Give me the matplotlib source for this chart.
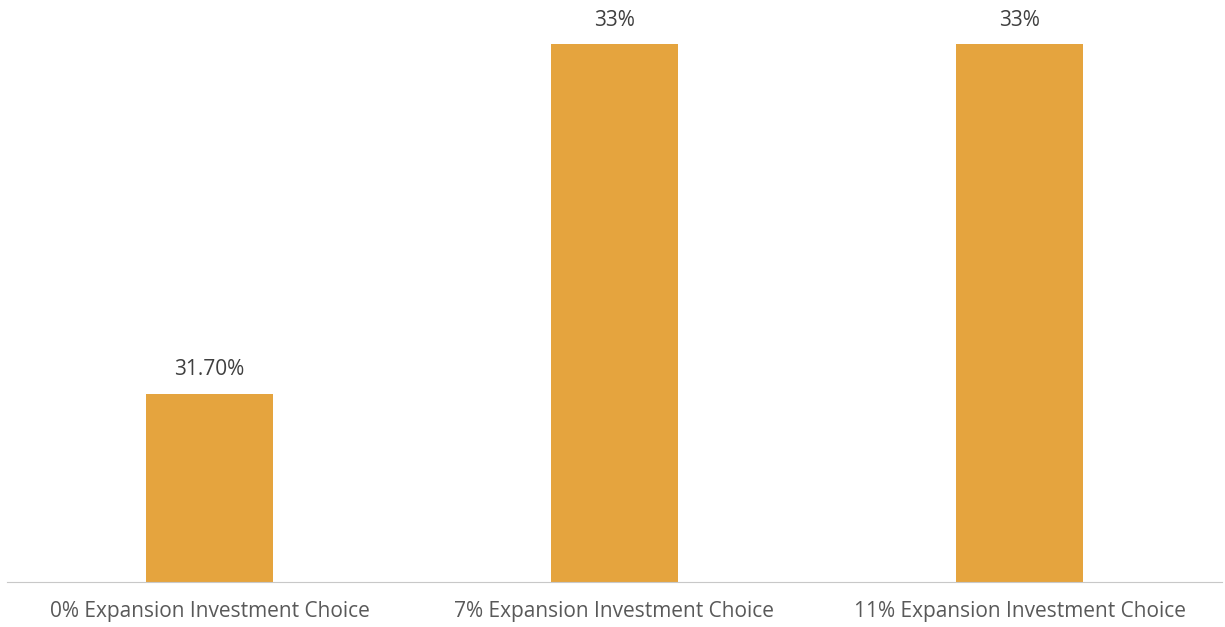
import matplotlib.pyplot as plt

categories = ["0% Expansion Investment Choice",
              "7% Expansion Investment Choice",
              "11% Expansion Investment Choice"]
values = [31.70, 33, 33]
value_labels = ["31.70%", "33%", "33%"]

plt.rcParams['font.family'] = ['Open Sans', 'DejaVu Sans']

fig = plt.figure(figsize=(12.25, 6.27), dpi=100)
ax = fig.add_axes([7 / 1225, 45 / 627, 1215 / 1225, 582 / 627])

x = range(len(categories))
bars = ax.bar(x, values, width=0.314, color="#E5A43E", bottom=0)
ax.set_ylim(31, 33.165)
ax.set_xlim(-0.5, 2.5)

for b, lab in zip(bars, value_labels):
    ax.annotate(lab, (b.get_x() + b.get_width() / 2, b.get_height()),
                xytext=(0, 17.5), textcoords="offset points",
                ha="center", va="center", fontsize=15, color="#404040")

ax.set_xticks(list(x))
ax.set_xticklabels(categories, fontsize=15, color="#595959")
ax.tick_params(axis="x", length=0, pad=14)
ax.set_yticks([])
for s in ["top", "right", "left"]:
    ax.spines[s].set_visible(False)
ax.spines["bottom"].set_color("#c8c8c8")
ax.spines["bottom"].set_linestyle((0, (2, 1)))
ax.spines["bottom"].set_linewidth(0.8)

fig.savefig("out.png", dpi=100)
